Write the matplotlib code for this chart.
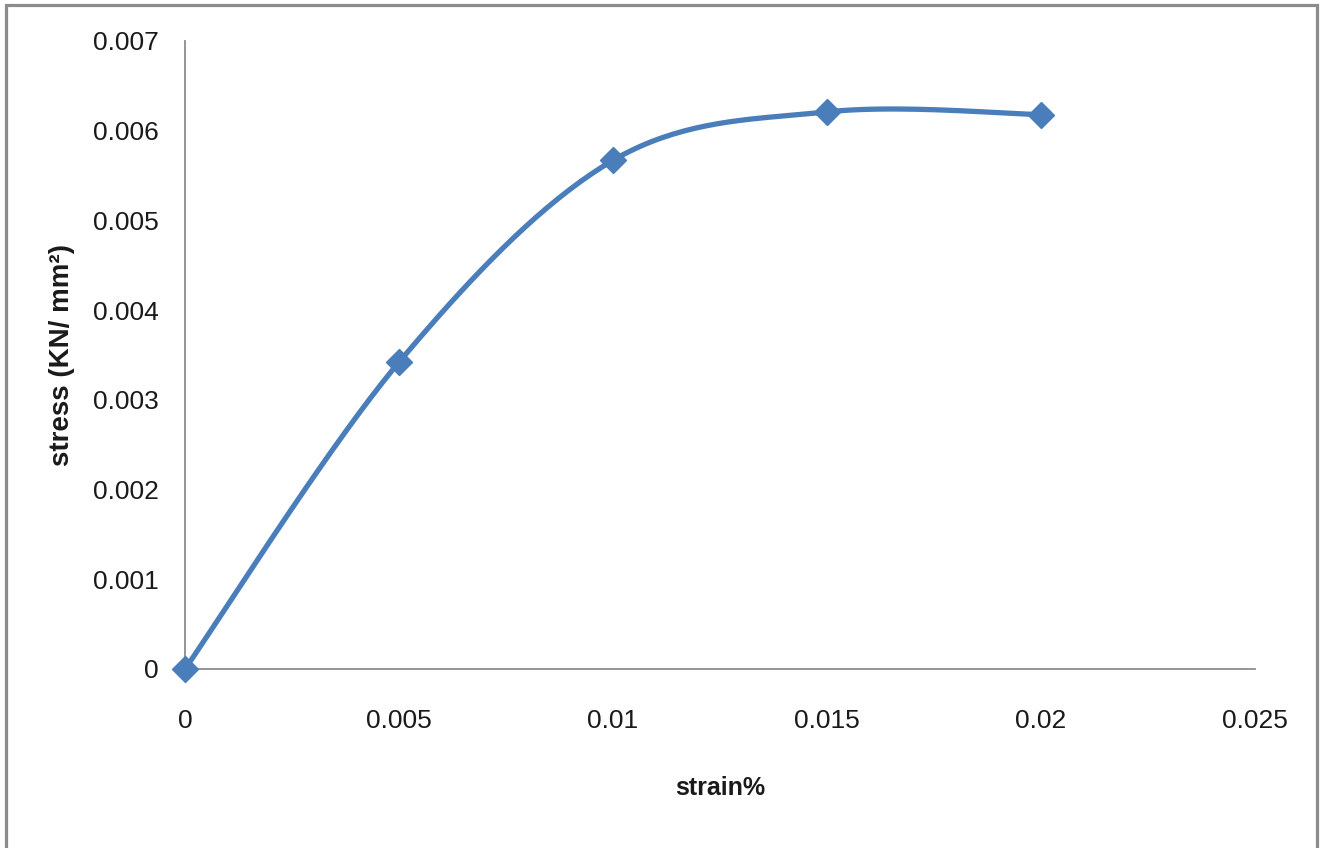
import numpy as np
import matplotlib
matplotlib.use("Agg")
from matplotlib import pyplot as plt
from matplotlib import font_manager
from matplotlib.patches import Rectangle

strain = [0, 0.005, 0.01, 0.015, 0.02]
stress = [0, 0.00342, 0.00567, 0.00621, 0.00618]
x_ticks = [0, 0.005, 0.01, 0.015, 0.02, 0.025]
y_ticks = [0, 0.001, 0.002, 0.003, 0.004, 0.005, 0.006, 0.007]
x_labels = ["0", "0.005", "0.01", "0.015", "0.02", "0.025"]
y_labels = ["0", "0.001", "0.002", "0.003", "0.004", "0.005", "0.006", "0.007"]

names = {f.name for f in font_manager.fontManager.ttflist}
family = "Liberation Sans Narrow" if "Liberation Sans Narrow" in names else "Liberation Sans"
plt.rcParams["font.family"] = [family, "DejaVu Sans"]


def smooth(xs, ys, n=40):
    # excel-style smoothed line: cubic bezier with catmull-rom control points
    p = np.column_stack([xs, ys]).astype(float)
    p = np.vstack([p[0], p, p[-1]])
    out = []
    t = np.linspace(0, 1, n)[:, None]
    for i in range(1, len(p) - 2):
        p0, p1, p2, p3 = p[i - 1], p[i], p[i + 1], p[i + 2]
        c1 = p1 + (p2 - p0) / 6
        c2 = p2 - (p3 - p1) / 6
        seg = (1 - t) ** 3 * p1 + 3 * (1 - t) ** 2 * t * c1 + 3 * (1 - t) * t ** 2 * c2 + t ** 3 * p2
        out.append(seg)
    out = np.vstack(out)
    return out[:, 0], out[:, 1]


fig = plt.figure(figsize=(13.24, 8.48), dpi=100)
ax = fig.add_axes([185 / 1324, 1 - 669 / 848, 1070 / 1324, 628 / 848])

blue = "#4A7EBB"
sx, sy = smooth(strain, stress)
ax.plot(sx, sy, color=blue, lw=3.8, solid_capstyle="round", zorder=3)
ax.plot(strain, stress, ls="none", marker="D", ms=13, color=blue, zorder=4,
        clip_on=False)

ax.set_xlim(0, 0.025)
ax.set_ylim(0, 0.007)
ax.set_xticks(x_ticks)
ax.set_yticks(y_ticks)
ax.set_xticklabels(x_labels)
ax.set_yticklabels(y_labels)
ax.tick_params(length=0, labelsize=19, labelcolor="#1a1a1a")
ax.tick_params(axis="x", pad=29)
ax.tick_params(axis="y", pad=19)

for s in ["top", "right"]:
    ax.spines[s].set_visible(False)
for s in ["left", "bottom"]:
    ax.spines[s].set_color("#8c8c8c")
    ax.spines[s].set_linewidth(1.3)

# axis titles
ax.text(0.5, -0.19, "strain%", transform=ax.transAxes, ha="center", va="center",
        fontsize=18, fontweight="bold", color="#1a1a1a")
ax.text(-0.115, 0.5, "stress (KN/ mm²)", transform=ax.transAxes, ha="center",
        va="center", rotation=90, fontsize=20, fontweight="bold", color="#1a1a1a")

# chart frame
fig.patches.append(Rectangle((5.5 / 1324, -0.05), 1311 / 1324, 1 + 0.05 - 4.5 / 848,
                             transform=fig.transFigure, fill=False,
                             edgecolor="#8c8c8c", lw=2.3))

fig.savefig("out.png", dpi=100)
